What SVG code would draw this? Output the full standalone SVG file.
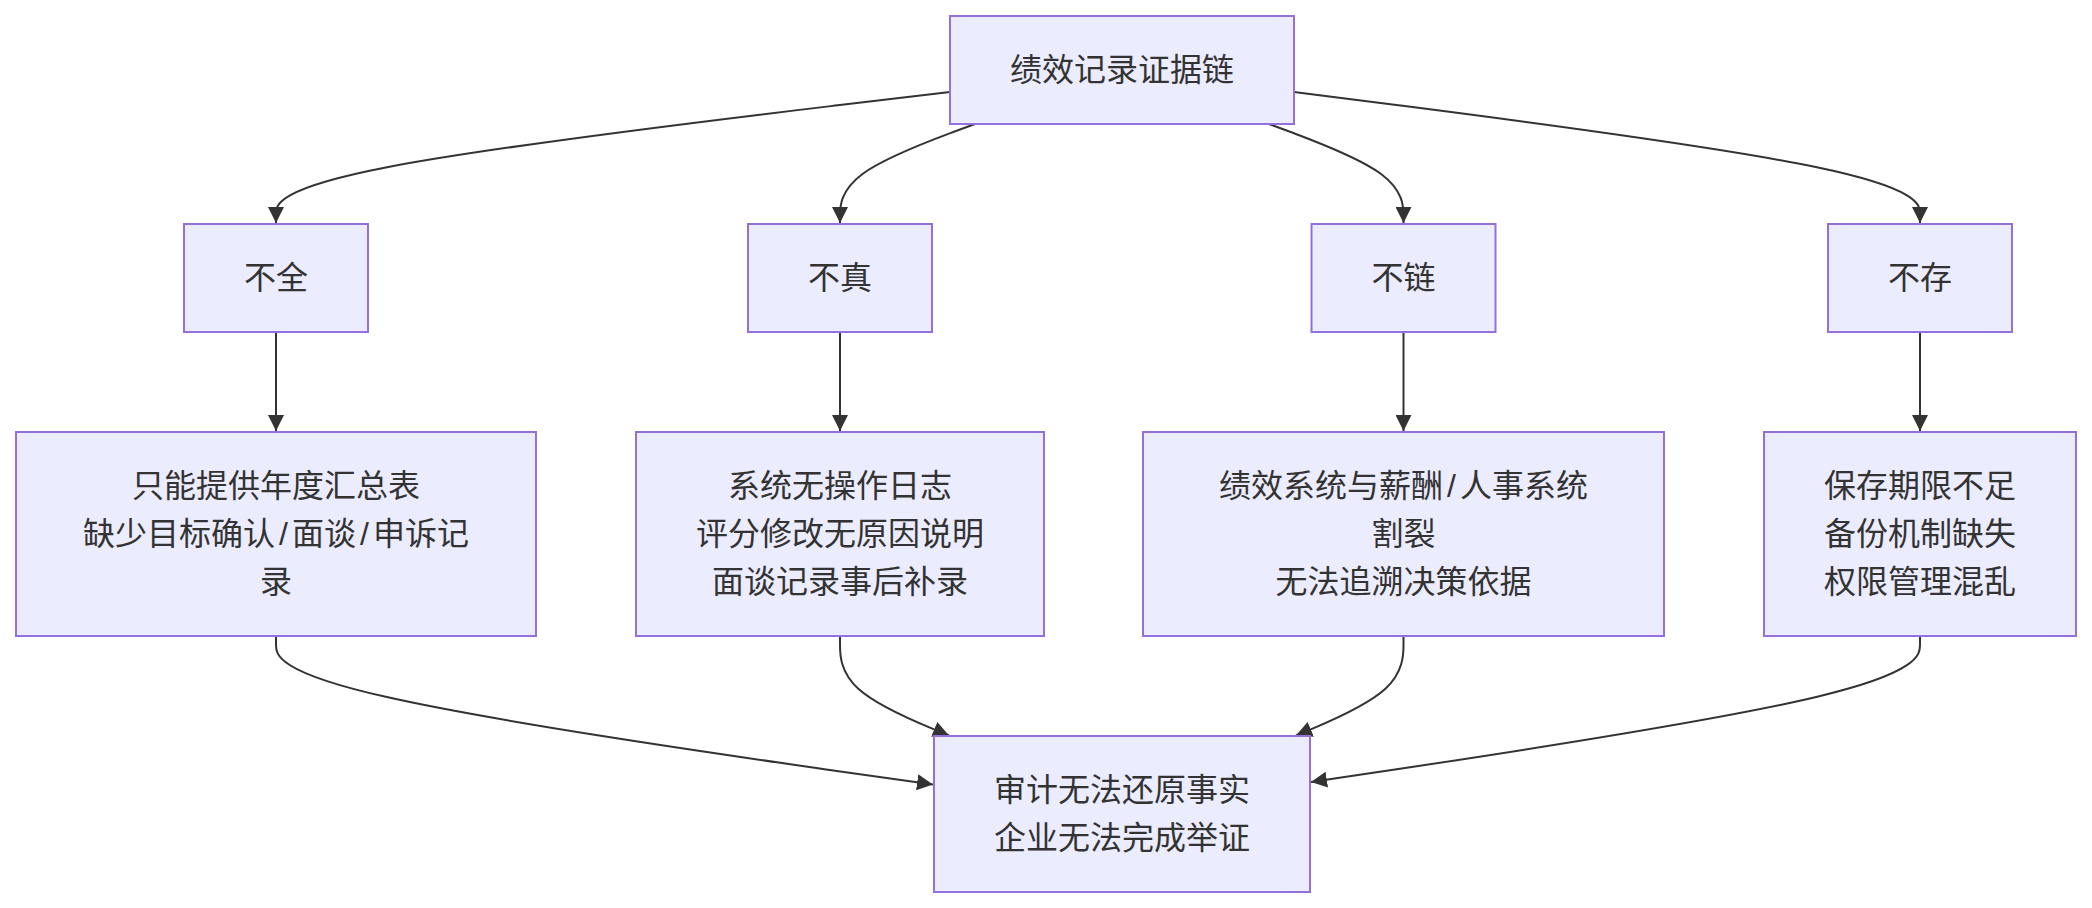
<svg xmlns="http://www.w3.org/2000/svg" width="2092" height="908" viewBox="0 0 2092 908">
<style>
.node rect{fill:#ECECFF;stroke:#9370DB;stroke-width:2}
.node text{font-family:"Liberation Sans","Noto Sans CJK SC",sans-serif;font-size:32px;fill:#333;text-anchor:middle;dominant-baseline:central}
.edges path{fill:none;stroke:#333;stroke-width:2;marker-end:url(#arrow)}
</style>
<defs>
<marker id="arrow" viewBox="0 0 10 10" refX="10" refY="5" markerUnits="userSpaceOnUse" markerWidth="16" markerHeight="16" orient="auto">
<path d="M0,0 L10,5 L0,10 z" fill="#333"/>
</marker>
</defs>
<rect width="2092" height="908" fill="#fff"/>
<g class="edges">
<path d="M950,92 L837.7,105.3 C725.3,118.7 500.7,145.3 388.3,167 C276,188.7 276,205.3 276,213.7 L276,223"/>
<path d="M975,124 L952.5,132.3 C930,140.7 885,157.3 862.5,174 C840,190.7 840,207.3 840,215.7 L840,223"/>
<path d="M1269,124 L1291.4,132.3 C1313.8,140.7 1358.7,157.3 1381.1,174 C1403.5,190.7 1403.5,207.3 1403.5,215.7 L1403.5,223"/>
<path d="M1294,92 L1398.3,105.3 C1502.7,118.7 1711.3,145.3 1815.7,167 C1920,188.7 1920,205.3 1920,213.7 L1920,223"/>
<path d="M276,332 L276,431"/>
<path d="M840,332 L840,431"/>
<path d="M1403.5,332 L1403.5,431"/>
<path d="M1920,332 L1920,431"/>
<path d="M276,636 L276,645 C276,654 276,672 385.7,696.8 C495.3,721.7 714.7,753.3 824.3,769.2 L933,784.5"/>
<path d="M840,636 L840,645 C840,654 840,672 858.3,688.7 C876.7,705.3 913.3,720.7 931.7,728.3 L949,735.5"/>
<path d="M1403.5,636 L1403.5,645 C1403.5,654 1403.5,672 1385.4,688.7 C1367.3,705.3 1331.2,720.7 1313.1,728.3 L1296,735.5"/>
<path d="M1920,636 L1920,645 C1920,654 1920,672 1818.3,696.5 C1716.7,721 1513.3,751.7 1411.7,767 L1311,782"/>
</g>
<g id="n-root" class="node"><rect x="950" y="16" width="344" height="108"/><text x="1122" y="70">绩效记录证据链</text></g>
<g id="n-buquan" class="node"><rect x="184" y="224" width="184" height="108"/><text x="276" y="278">不全</text></g>
<g id="n-buzhen" class="node"><rect x="748" y="224" width="184" height="108"/><text x="840" y="278">不真</text></g>
<g id="n-bulian" class="node"><rect x="1311.5" y="224" width="184" height="108"/><text x="1403.5" y="278">不链</text></g>
<g id="n-bucun" class="node"><rect x="1828" y="224" width="184" height="108"/><text x="1920" y="278">不存</text></g>
<g id="n-d1" class="node"><rect x="16" y="432" width="520" height="204"/><text x="276" y="486">只能提供年度汇总表</text><text x="276" y="534">缺少目标确认<tspan dx="4">/</tspan><tspan dx="4">面谈</tspan><tspan dx="4">/</tspan><tspan dx="4">申诉记</tspan></text><text x="276" y="582">录</text></g>
<g id="n-d2" class="node"><rect x="636" y="432" width="408" height="204"/><text x="840" y="486">系统无操作日志</text><text x="840" y="534">评分修改无原因说明</text><text x="840" y="582">面谈记录事后补录</text></g>
<g id="n-d3" class="node"><rect x="1143" y="432" width="521" height="204"/><text x="1403.5" y="486">绩效系统与薪酬<tspan dx="4">/</tspan><tspan dx="4">人事系统</tspan></text><text x="1403.5" y="534">割裂</text><text x="1403.5" y="582">无法追溯决策依据</text></g>
<g id="n-d4" class="node"><rect x="1764" y="432" width="312" height="204"/><text x="1920" y="486">保存期限不足</text><text x="1920" y="534">备份机制缺失</text><text x="1920" y="582">权限管理混乱</text></g>
<g id="n-result" class="node"><rect x="934" y="736" width="376" height="156"/><text x="1122" y="790">审计无法还原事实</text><text x="1122" y="838">企业无法完成举证</text></g>
</svg>
